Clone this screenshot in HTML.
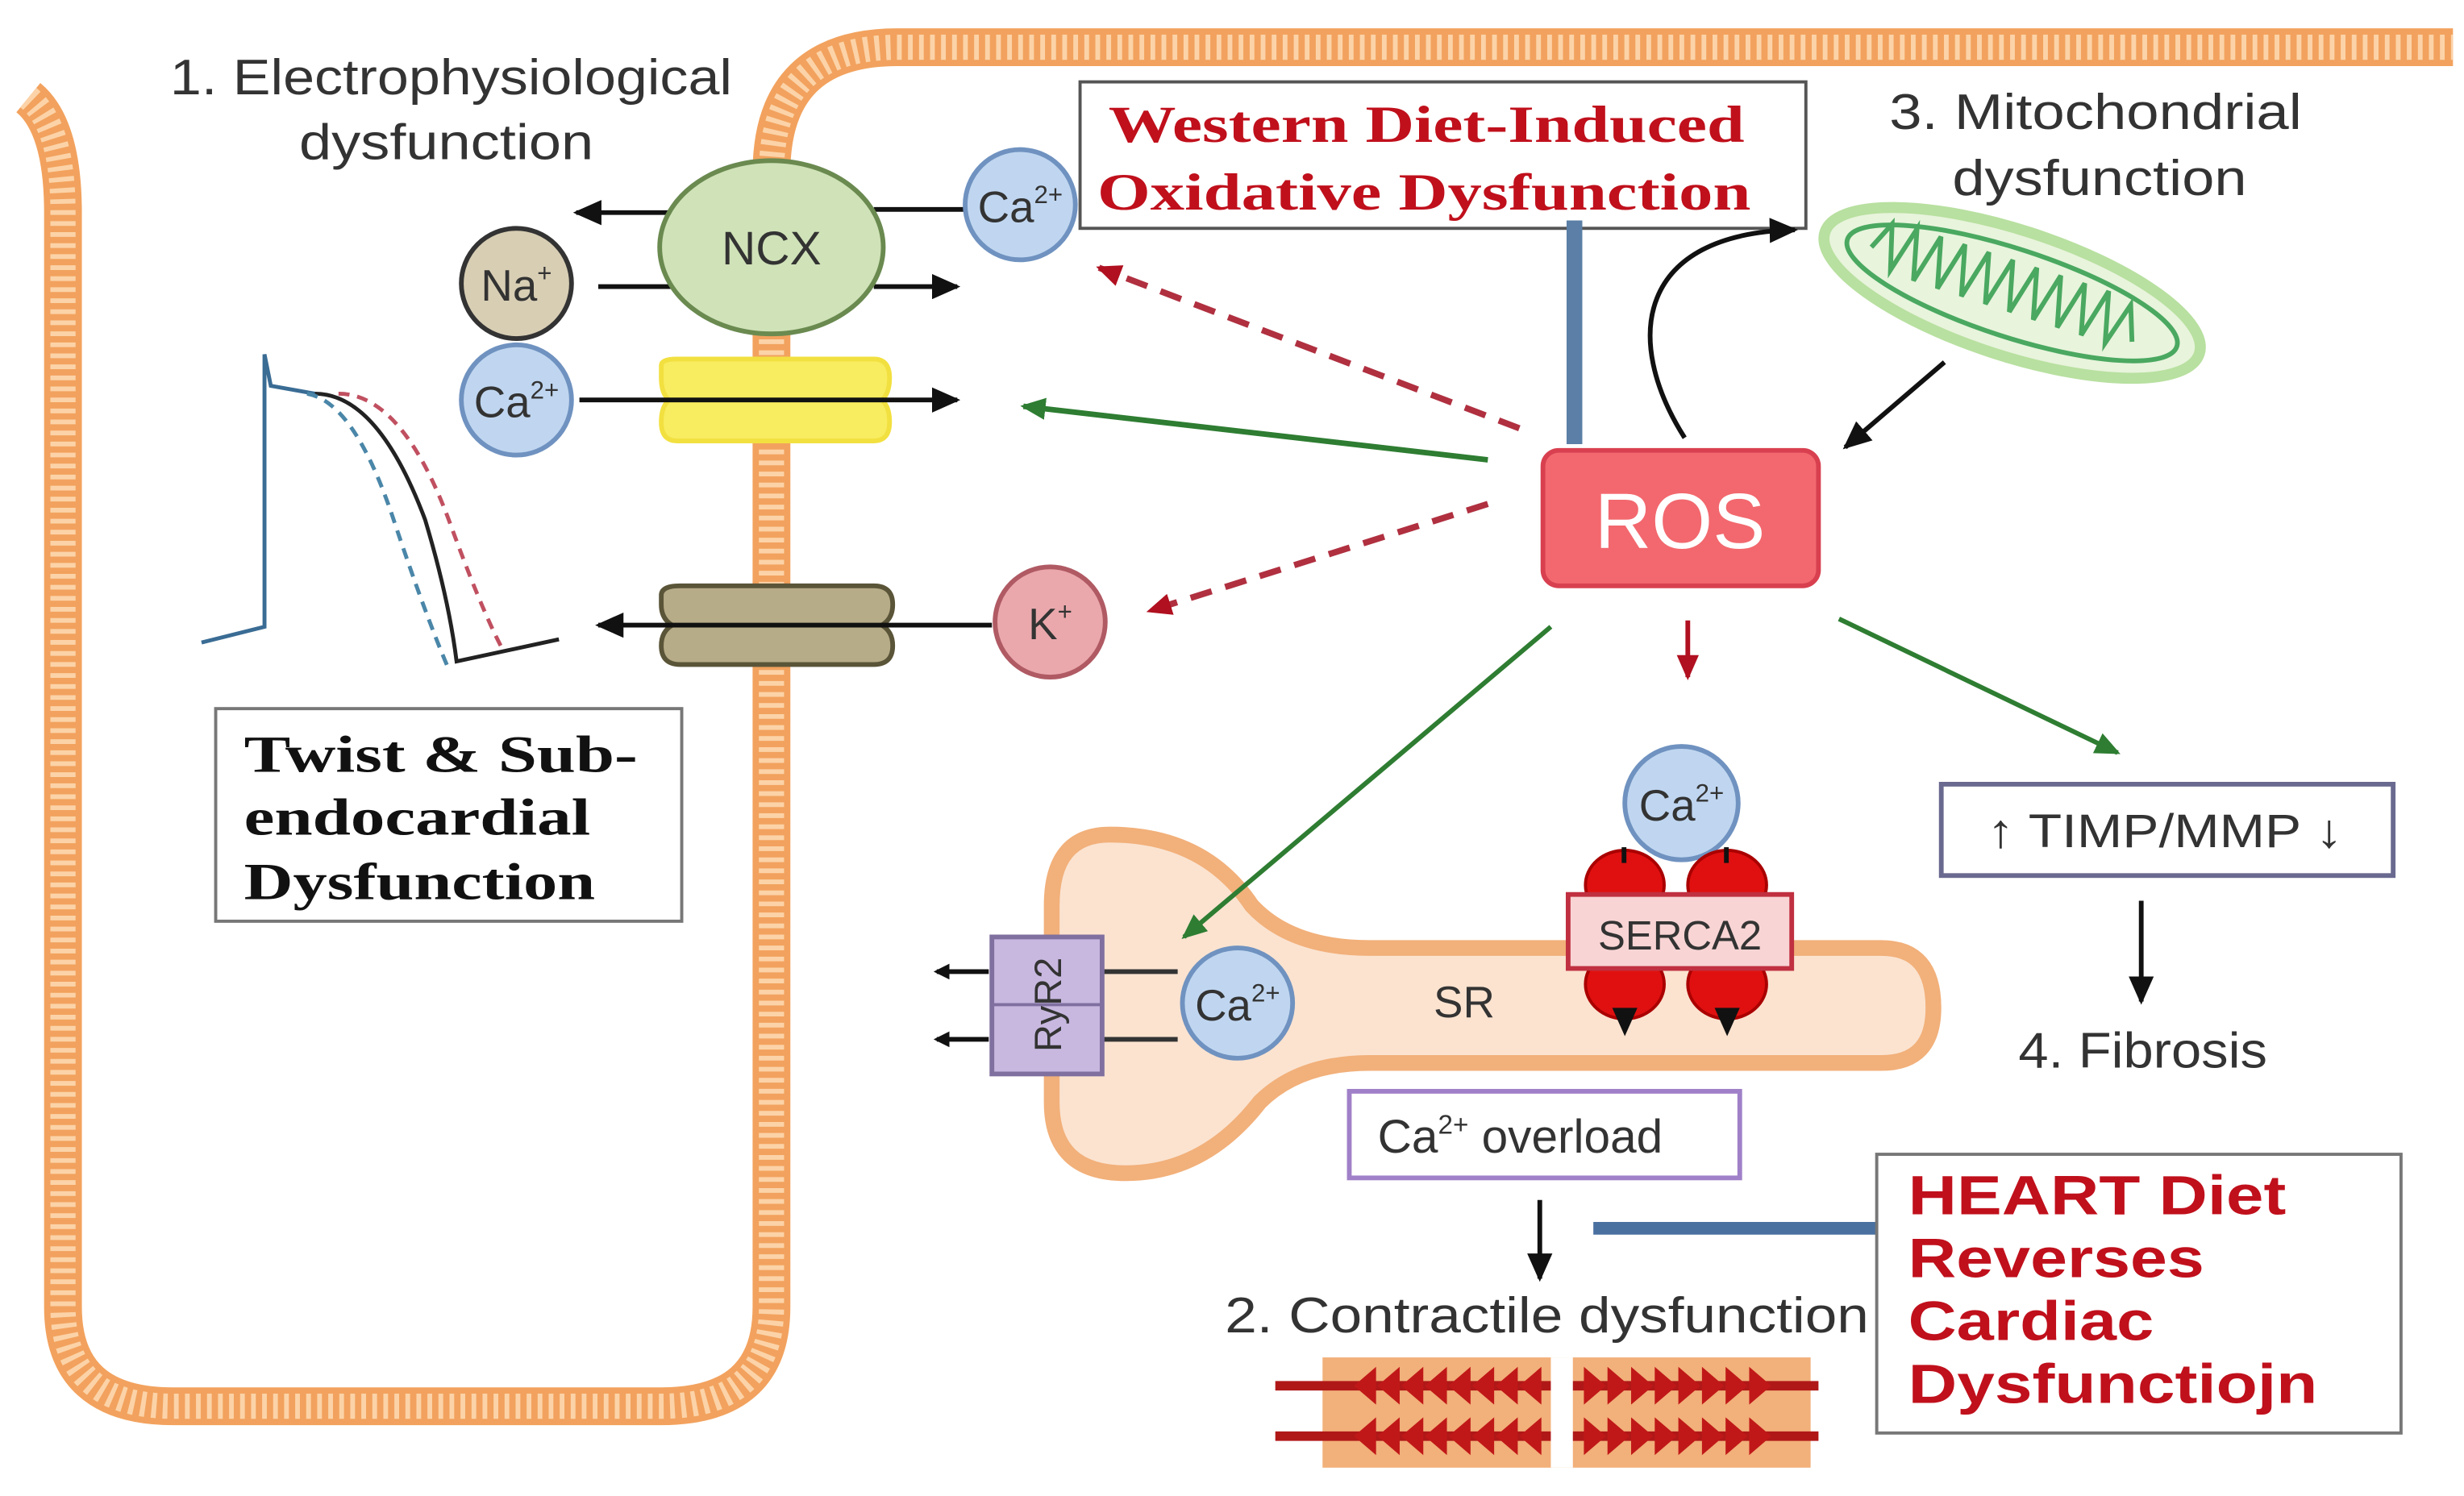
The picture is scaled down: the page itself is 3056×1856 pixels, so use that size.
<!DOCTYPE html>
<html><head><meta charset="utf-8"><style>
html,body{margin:0;padding:0;background:#fff;}
svg{display:block;}
text{font-family:"Liberation Sans",sans-serif;}
</style></head><body>
<svg width="3056" height="1856" viewBox="0 0 1565 950" preserveAspectRatio="none" xmlns="http://www.w3.org/2000/svg">
<defs>
<marker id="ak" markerWidth="10" markerHeight="10" refX="8" refY="5" orient="auto" markerUnits="userSpaceOnUse"><path d="M0,0 L10,5 L0,10 Z" fill="#111"/></marker>
<marker id="ag" markerWidth="16" markerHeight="14" refX="14" refY="7" orient="auto" markerUnits="userSpaceOnUse"><path d="M0,0 L16,7 L0,14 Z" fill="#2e7d32"/></marker>
<marker id="ar" markerWidth="16" markerHeight="14" refX="14" refY="7" orient="auto" markerUnits="userSpaceOnUse"><path d="M0,0 L16,7 L0,14 Z" fill="#b01020"/></marker>
<marker id="ab" markerWidth="18" markerHeight="16" refX="16" refY="8" orient="auto" markerUnits="userSpaceOnUse"><path d="M0,0 L18,8 L0,16 Z" fill="#111"/></marker>
</defs>
<!-- membrane -->
<g fill="none">
<path d="M18,62 Q40,80 40,135 L40,830 Q40,893 110,893 L420,893 Q490,893 490,830 L490,110 Q490,30 570,30 L1558,30" stroke="#f2a25e" stroke-width="24"/>
<path d="M18,62 Q40,80 40,135 L40,830 Q40,893 110,893 L420,893 Q490,893 490,830 L490,110 Q490,30 570,30 L1558,30" stroke="#fcd3a8" stroke-width="16" stroke-dasharray="3 4"/>
</g>
<!-- titles -->
<g fill="#333" font-size="32">
<text x="108" y="60" textLength="357" lengthAdjust="spacingAndGlyphs">1. Electrophysiological</text>
<text x="190" y="101" textLength="187" lengthAdjust="spacingAndGlyphs">dysfunction</text>
<text x="1200" y="82" textLength="262" lengthAdjust="spacingAndGlyphs">3. Mitochondrial</text>
<text x="1240" y="124" textLength="187" lengthAdjust="spacingAndGlyphs">dysfunction</text>
<text x="1282" y="678" textLength="158" lengthAdjust="spacingAndGlyphs">4. Fibrosis</text>
<text x="778" y="846" textLength="409" lengthAdjust="spacingAndGlyphs">2. Contractile dysfunction</text>
</g>
<!-- action potential -->
<g fill="none" stroke-width="2.5">
<path d="M128,408 L168,398 L168,225 L172,245 L200,250" stroke="#3a6c94"/>
<path d="M200,250 Q240,250 270,330 Q285,380 290,420 L355,406" stroke="#222"/>
<path d="M195,250 Q225,255 250,330 Q270,390 285,425" stroke="#4a86a8" stroke-dasharray="7 5"/>
<path d="M215,250 Q255,250 285,330 Q305,385 318,410" stroke="#c05060" stroke-dasharray="7 5"/>
</g>
<!-- ion arrows -->
<g stroke="#111" stroke-width="3" fill="none">
<line x1="425" y1="135" x2="366" y2="135" marker-end="url(#ab)"/>
<line x1="612" y1="133" x2="555" y2="133"/>
<line x1="380" y1="182" x2="430" y2="182"/>
<line x1="555" y1="182" x2="608" y2="182" marker-end="url(#ab)"/>
</g>
<!-- yellow channel -->
<path d="M420,232 Q420,228 430,228 L555,228 Q565,228 565,240 Q565,250 560,254 Q565,258 565,268 Q565,280 555,280 L430,280 Q420,280 420,268 Q420,258 425,254 Q420,250 420,240 Z" fill="#f8ec60" stroke="#f2e040" stroke-width="3"/>
<line x1="368" y1="254" x2="608" y2="254" stroke="#111" stroke-width="3" marker-end="url(#ab)"/>
<!-- K channel -->
<path d="M420,378 Q420,372 432,372 L555,372 Q567,372 567,384 Q567,393 560,397 Q567,401 567,410 Q567,422 555,422 L432,422 Q420,422 420,410 Q420,401 427,397 Q420,393 420,384 Z" fill="#b7ac88" stroke="#5a5438" stroke-width="3"/>
<line x1="630" y1="397" x2="380" y2="397" stroke="#111" stroke-width="3" marker-end="url(#ab)"/>
<!-- NCX -->
<ellipse cx="490" cy="157" rx="71" ry="55" fill="#d0e2b8" stroke="#6a8a50" stroke-width="3"/>
<text x="490" y="168" text-anchor="middle" font-size="30" fill="#333">NCX</text>
<!-- ions -->
<circle cx="648" cy="130" r="35" fill="#c0d6f0" stroke="#6f92c0" stroke-width="3"/>
<text x="648" y="141" text-anchor="middle" font-size="28" fill="#333">Ca<tspan font-size="16" dy="-12">2+</tspan></text>
<circle cx="328" cy="180" r="35" fill="#d8ceb4" stroke="#333" stroke-width="3"/>
<text x="328" y="191" text-anchor="middle" font-size="28" fill="#333">Na<tspan font-size="16" dy="-12">+</tspan></text>
<circle cx="328" cy="254" r="35" fill="#c0d6f0" stroke="#6f92c0" stroke-width="3"/>
<text x="328" y="265" text-anchor="middle" font-size="28" fill="#333">Ca<tspan font-size="16" dy="-12">2+</tspan></text>
<circle cx="667" cy="395" r="35" fill="#eaa8ac" stroke="#b05a64" stroke-width="3"/>
<text x="667" y="406" text-anchor="middle" font-size="28" fill="#333">K<tspan font-size="16" dy="-12">+</tspan></text>
<!-- Twist box -->
<rect x="137" y="450" width="296" height="135" fill="#fff" stroke="#777" stroke-width="2"/>
<g font-weight="bold" font-size="33" fill="#111">
<text x="155" y="490" style="font-family:'Liberation Serif',serif" textLength="250" lengthAdjust="spacingAndGlyphs">Twist  &amp; Sub-</text>
<text x="155" y="530" style="font-family:'Liberation Serif',serif" textLength="220" lengthAdjust="spacingAndGlyphs">endocardial</text>
<text x="155" y="571" style="font-family:'Liberation Serif',serif" textLength="223" lengthAdjust="spacingAndGlyphs">Dysfunction</text>
</g>
<!-- Western box -->
<rect x="686" y="52" width="461" height="93" fill="#fff" stroke="#555" stroke-width="2"/>
<g font-weight="bold" font-size="33" fill="#c0101c">
<text x="704" y="90" style="font-family:'Liberation Serif',serif" textLength="404" lengthAdjust="spacingAndGlyphs">Western Diet-Induced</text>
<text x="697" y="133" style="font-family:'Liberation Serif',serif" textLength="415" lengthAdjust="spacingAndGlyphs">Oxidative Dysfunction</text>
</g>
<line x1="1000" y1="140" x2="1000" y2="282" stroke="#5b7fa6" stroke-width="10"/>
<!-- mitochondrion -->
<g transform="rotate(18 1278 186)">
<ellipse cx="1278" cy="186" rx="125" ry="40" fill="#e8f4dc" stroke="#b8e0a0" stroke-width="7"/>
<ellipse cx="1278" cy="186" rx="110" ry="28" fill="none" stroke="#4aa860" stroke-width="3"/>
<path d="M1184,186 l8,-18 l8,28 l8,-30 l8,32 l8,-32 l8,32 l8,-32 l8,32 l8,-32 l8,32 l8,-32 l8,32 l8,-32 l8,32 l8,-32 l8,32 l8,-32 l8,32 l8,-32 l8,32 l8,-28 l8,22" fill="none" stroke="#4aa860" stroke-width="3"/>
</g>
<!-- ROS -->
<rect x="980" y="286" width="175" height="86" rx="10" fill="#f2686e" stroke="#d84050" stroke-width="3"/>
<text x="1067" y="348" text-anchor="middle" font-size="50" fill="#fff">ROS</text>
<!-- arrows from ROS -->
<path d="M1070,278 C1030,215 1040,148 1140,146" fill="none" stroke="#111" stroke-width="3" marker-end="url(#ab)"/>
<line x1="1235" y1="230" x2="1172" y2="284" stroke="#111" stroke-width="3" marker-end="url(#ab)"/>
<line x1="965" y1="272" x2="698" y2="170" stroke="#b03040" stroke-width="4" stroke-dasharray="14 9" marker-end="url(#ar)"/>
<line x1="945" y1="320" x2="730" y2="388" stroke="#b03040" stroke-width="4" stroke-dasharray="14 9" marker-end="url(#ar)"/>
<line x1="945" y1="292" x2="650" y2="258" stroke="#2e7d32" stroke-width="3.5" marker-end="url(#ag)"/>
<line x1="1072" y1="394" x2="1072" y2="430" stroke="#b01020" stroke-width="3" marker-end="url(#ar)"/>
<line x1="1168" y1="393" x2="1345" y2="478" stroke="#2e7d32" stroke-width="3" marker-end="url(#ag)"/>
<!-- TIMP -->
<rect x="1233" y="498" width="287" height="58" fill="#fff" stroke="#6a6a90" stroke-width="3"/>
<text x="1262" y="538" font-size="30" fill="#333" textLength="226" lengthAdjust="spacingAndGlyphs">↑ TIMP/MMP ↓</text>
<line x1="1360" y1="572" x2="1360" y2="636" stroke="#111" stroke-width="3" marker-end="url(#ab)"/>
<!-- SR -->
<path d="M705,530 Q668,530 668,575 L668,700 Q668,745 715,745 Q765,745 800,700 Q825,675 870,675 L1195,675 Q1228,675 1228,640 Q1228,602 1195,602 L870,602 Q820,602 795,575 Q765,530 705,530 Z" fill="#fbe3d0" stroke="#f2b07a" stroke-width="10"/>
<text x="930" y="646" text-anchor="middle" font-size="28" fill="#333">SR</text>
<line x1="985" y1="398" x2="752" y2="595" stroke="#2e7d32" stroke-width="3" marker-end="url(#ag)"/>
<!-- Ca in SR region -->
<circle cx="1068" cy="510" r="36" fill="#c0d6f0" stroke="#6f92c0" stroke-width="3"/>
<text x="1068" y="521" text-anchor="middle" font-size="28" fill="#333">Ca<tspan font-size="16" dy="-12">2+</tspan></text>
<!-- SERCA -->
<g fill="#e01010" stroke="#a00" stroke-width="2">
<ellipse cx="1032" cy="562" rx="25" ry="22"/><ellipse cx="1097" cy="562" rx="25" ry="22"/>
<ellipse cx="1032" cy="625" rx="25" ry="22"/><ellipse cx="1097" cy="625" rx="25" ry="22"/>
</g>
<g fill="#111"><path d="M1024,640 L1040,640 L1032,658 Z"/><path d="M1089,640 L1105,640 L1097,658 Z"/>
<rect x="1030" y="538" width="3" height="10"/><rect x="1095" y="538" width="3" height="10"/></g>
<rect x="996" y="568" width="142" height="47" fill="#f8d4d4" stroke="#c03040" stroke-width="3"/>
<text x="1067" y="603" text-anchor="middle" font-size="26" fill="#333">SERCA2</text>
<!-- RyR2 -->
<line x1="700" y1="617" x2="748" y2="617" stroke="#333" stroke-width="3"/>
<line x1="700" y1="660" x2="748" y2="660" stroke="#333" stroke-width="3"/>
<rect x="630" y="595" width="70" height="87" fill="#c8b8e0" stroke="#8070a0" stroke-width="3"/>
<line x1="630" y1="638" x2="700" y2="638" stroke="#8070a0" stroke-width="2"/>
<text x="0" y="0" transform="translate(674 638) rotate(-90)" text-anchor="middle" font-size="24" fill="#333">RyR2</text>
<line x1="628" y1="617" x2="595" y2="617" stroke="#111" stroke-width="3" marker-end="url(#ak)"/>
<line x1="628" y1="660" x2="595" y2="660" stroke="#111" stroke-width="3" marker-end="url(#ak)"/>
<circle cx="786" cy="637" r="35" fill="#c0d6f0" stroke="#6f92c0" stroke-width="3"/>
<text x="786" y="648" text-anchor="middle" font-size="28" fill="#333">Ca<tspan font-size="16" dy="-12">2+</tspan></text>
<!-- overload -->
<rect x="857" y="693" width="248" height="55" fill="#fff" stroke="#a080c8" stroke-width="3"/>
<text x="875" y="732" font-size="30" fill="#333">Ca<tspan font-size="17" dy="-12">2+</tspan><tspan dy="12"> overload</tspan></text>
<line x1="978" y1="762" x2="978" y2="812" stroke="#111" stroke-width="3" marker-end="url(#ab)"/>
<line x1="1012" y1="780" x2="1195" y2="780" stroke="#4a70a0" stroke-width="8"/>
<!-- HEART -->
<rect x="1192" y="733" width="333" height="177" fill="#fff" stroke="#777" stroke-width="2"/>
<g font-weight="bold" font-size="35" fill="#c0101c">
<text x="1212" y="771" textLength="240" lengthAdjust="spacingAndGlyphs">HEART Diet</text>
<text x="1212" y="811" textLength="188" lengthAdjust="spacingAndGlyphs">Reverses</text>
<text x="1212" y="851" textLength="156" lengthAdjust="spacingAndGlyphs">Cardiac</text>
<text x="1212" y="891" textLength="260" lengthAdjust="spacingAndGlyphs">Dysfunctiojn</text>
</g>
<!-- sarcomere -->
<rect x="840" y="862" width="310" height="70" fill="#f2b07a"/>
<g stroke="#b01818" stroke-width="6"><line x1="810" y1="880" x2="1155" y2="880"/><line x1="810" y1="912" x2="1155" y2="912"/></g>
<g fill="#c01818">
<path d="M860,880 l14,-12 v24z M875,880 l14,-12 v24z M890,880 l14,-12 v24z M905,880 l14,-12 v24z M920,880 l14,-12 v24z M935,880 l14,-12 v24z M950,880 l14,-12 v24z M965,880 l14,-12 v24z"/>
<path d="M860,912 l14,-12 v24z M875,912 l14,-12 v24z M890,912 l14,-12 v24z M905,912 l14,-12 v24z M920,912 l14,-12 v24z M935,912 l14,-12 v24z M950,912 l14,-12 v24z M965,912 l14,-12 v24z"/>
<path d="M1006,868 l14,12 l-14,12z M1021,868 l14,12 l-14,12z M1036,868 l14,12 l-14,12z M1051,868 l14,12 l-14,12z M1066,868 l14,12 l-14,12z M1081,868 l14,12 l-14,12z M1096,868 l14,12 l-14,12z M1111,868 l14,12 l-14,12z"/>
<path d="M1006,900 l14,12 l-14,12z M1021,900 l14,12 l-14,12z M1036,900 l14,12 l-14,12z M1051,900 l14,12 l-14,12z M1066,900 l14,12 l-14,12z M1081,900 l14,12 l-14,12z M1096,900 l14,12 l-14,12z M1111,900 l14,12 l-14,12z"/>
</g>
<rect x="985" y="862" width="14" height="70" fill="#fff"/>
</svg>
</body></html>
